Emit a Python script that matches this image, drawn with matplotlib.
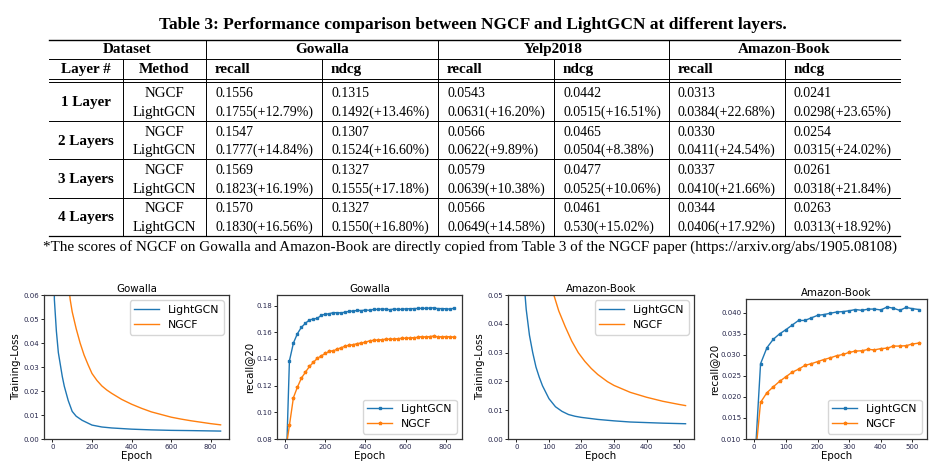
import matplotlib
matplotlib.use("Agg")
import matplotlib.pyplot as plt
from matplotlib.lines import Line2D

W, H = 944, 468

# ---- table data ----
title = "Table 3: Performance comparison between NGCF and LightGCN at different layers."
footnote = ("*The scores of NGCF on Gowalla and Amazon-Book are directly copied from "
            "Table 3 of the NGCF paper (https://arxiv.org/abs/1905.08108)")
datasets = ["Gowalla", "Yelp2018", "Amazon-Book"]
metrics = ["recall", "ndcg"]
layers = ["1 Layer", "2 Layers", "3 Layers", "4 Layers"]
methods = ["NGCF", "LightGCN"]
ngcf_scores = [
    ["0.1556", "0.1315", "0.0543", "0.0442", "0.0313", "0.0241"],
    ["0.1547", "0.1307", "0.0566", "0.0465", "0.0330", "0.0254"],
    ["0.1569", "0.1327", "0.0579", "0.0477", "0.0337", "0.0261"],
    ["0.1570", "0.1327", "0.0566", "0.0461", "0.0344", "0.0263"],
]
lightgcn_scores = [
    ["0.1755(+12.79%)", "0.1492(+13.46%)", "0.0631(+16.20%)", "0.0515(+16.51%)", "0.0384(+22.68%)", "0.0298(+23.65%)"],
    ["0.1777(+14.84%)", "0.1524(+16.60%)", "0.0622(+9.89%)", "0.0504(+8.38%)", "0.0411(+24.54%)", "0.0315(+24.02%)"],
    ["0.1823(+16.19%)", "0.1555(+17.18%)", "0.0639(+10.38%)", "0.0525(+10.06%)", "0.0410(+21.66%)", "0.0318(+21.84%)"],
    ["0.1830(+16.56%)", "0.1550(+16.80%)", "0.0649(+14.58%)", "0.530(+15.02%)", "0.0406(+17.92%)", "0.0313(+18.92%)"],
]

# ---- training loss curves ----
gow_loss_epoch_lgcn = [0, 10, 20, 30, 40, 50, 60, 80, 100, 120, 150, 200, 250, 300, 400, 500, 600, 700, 850]
gow_loss_lgcn = [0.12, 0.058, 0.045, 0.036, 0.031, 0.026, 0.022, 0.016, 0.0115, 0.0095, 0.0078, 0.0058,
                 0.0050, 0.0046, 0.0041, 0.0038, 0.0036, 0.0035, 0.0033]
gow_loss_epoch_ngcf = [0, 50, 80, 90, 100, 120, 140, 160, 180, 200, 225, 250, 275, 300, 350, 400, 450, 500,
                       550, 600, 650, 700, 750, 800, 850]
gow_loss_ngcf = [0.3, 0.1, 0.066, 0.058, 0.053, 0.046, 0.040, 0.035, 0.031, 0.0273, 0.0244, 0.0221, 0.0204,
                 0.0190, 0.0165, 0.0145, 0.0128, 0.0113, 0.0102, 0.0091, 0.0083, 0.0076, 0.0070, 0.0064,
                 0.0059]

amz_loss_epoch_lgcn = [0, 10, 20, 25, 30, 40, 50, 60, 70, 80, 100, 120, 140, 160, 180, 200, 250, 300, 350,
                       400, 450, 520]
amz_loss_lgcn = [0.15, 0.10, 0.062, 0.052, 0.045, 0.036, 0.030, 0.025, 0.0215, 0.0185, 0.0140, 0.0112,
                 0.0096, 0.0085, 0.0079, 0.0075, 0.0068, 0.0063, 0.0059, 0.0057, 0.0055, 0.0053]
amz_loss_epoch_ngcf = [0, 100, 115, 130, 150, 170, 190, 210, 230, 250, 280, 300, 350, 400, 450, 500, 520]
amz_loss_ngcf = [0.3, 0.058, 0.050, 0.0445, 0.0390, 0.0340, 0.0300, 0.0270, 0.0245, 0.0224, 0.0199,
                 0.0186, 0.0162, 0.0145, 0.0131, 0.0120, 0.0116]

# ---- recall@20 curves, evaluated every 20 epochs ----
gow_recall_epoch = list(range(0, 841, 20))
gow_recall_lgcn = [0.040, 0.1386, 0.1520, 0.1590, 0.1638, 0.1668, 0.1693, 0.1700, 0.1705, 0.1730, 0.1735,
                   0.1740, 0.1748, 0.1747, 0.1746, 0.1752, 0.1758, 0.1760, 0.1765, 0.1763, 0.1768, 0.1765,
                   0.1772, 0.1772, 0.1775, 0.1774, 0.1770, 0.1774, 0.1773, 0.1772, 0.1776, 0.1777, 0.1778,
                   0.1779, 0.1780, 0.1780, 0.1782, 0.1784, 0.1778, 0.1778, 0.1777, 0.1774, 0.1780]
gow_recall_ngcf = [0.070, 0.0902, 0.1110, 0.1189, 0.1257, 0.1301, 0.1344, 0.1376, 0.1406, 0.1424, 0.1443,
                   0.1458, 0.1462, 0.1475, 0.1485, 0.1498, 0.1503, 0.1508, 0.1516, 0.1520, 0.1526, 0.1536,
                   0.1540, 0.1542, 0.1545, 0.1548, 0.1548, 0.1550, 0.1552, 0.1555, 0.1555, 0.1558, 0.1560,
                   0.1562, 0.1568, 0.1565, 0.1568, 0.1572, 0.1566, 0.1567, 0.1568, 0.1567, 0.1564]

amz_recall_epoch = list(range(0, 521, 20))
amz_recall_lgcn = [0.002, 0.0279, 0.0317, 0.0337, 0.0350, 0.0360, 0.0371, 0.0382, 0.0382, 0.0388, 0.0394,
                   0.0396, 0.0399, 0.0402, 0.0403, 0.0405, 0.0408, 0.0406, 0.0409, 0.0409, 0.0407, 0.0414,
                   0.0411, 0.0406, 0.0413, 0.0410, 0.0408]
amz_recall_ngcf = [0.003, 0.0187, 0.0210, 0.0224, 0.0237, 0.0248, 0.0259, 0.0266, 0.0275, 0.0279, 0.0284,
                   0.0289, 0.0293, 0.0298, 0.0301, 0.0306, 0.0309, 0.0310, 0.0313, 0.0312, 0.0315, 0.0316,
                   0.0321, 0.0321, 0.0322, 0.0326, 0.0328]

BLUE = "#1f77b4"
ORANGE = "#ff7f0e"
SERIF = ["Liberation Serif", "DejaVu Serif"]
TICK_COLOR = "#25254a"

fig = plt.figure(figsize=(W / 100, H / 100), dpi=100)


def fx(px):
    return px / W


def fy(py):
    return 1 - py / H


def hline(y, x0=49, x1=900, lw=0.7):
    fig.add_artist(Line2D([fx(x0), fx(x1)], [fy(y), fy(y)], transform=fig.transFigure,
                          color="black", lw=lw))


def vline(x, y0, y1, lw=0.7):
    fig.add_artist(Line2D([fx(x), fx(x)], [fy(y0), fy(y1)], transform=fig.transFigure,
                          color="black", lw=lw))


def put(x, y, s, ha="left", bold=False, size=10.0):
    fig.text(fx(x), fy(y), s, ha=ha, va="baseline", family=SERIF, fontsize=size,
             fontweight="bold" if bold else "normal")


# ---- table ----
put(473, 29, title, ha="center", bold=True, size=12.5)

cols = [49, 123, 206, 322, 438, 554, 669, 785, 900]
pad = 9
HEAD = 10.9
hline(40, lw=1.0)
hline(59)
hline(79)
hline(82)
block_top = 82
block_h = 38.5
for i in range(4):
    hline(block_top + block_h * (i + 1), lw=0.9 if i == 3 else 0.7)
table_bottom = block_top + block_h * 4

for k, x in enumerate(cols[1:-1], start=1):
    top = 40 if k in (2, 4, 6) else 59
    vline(x, top, table_bottom)

put((cols[0] + cols[2]) / 2, 53, "Dataset", ha="center", bold=True, size=HEAD)
for d, name in enumerate(datasets):
    put((cols[2 + 2 * d] + cols[4 + 2 * d]) / 2, 53, name, ha="center", bold=True, size=HEAD)
put((cols[0] + cols[1]) / 2, 73, "Layer #", ha="center", bold=True, size=HEAD)
put((cols[1] + cols[2]) / 2, 73, "Method", ha="center", bold=True, size=HEAD)
for c in range(6):
    put(cols[2 + c] + pad, 73, metrics[c % 2], bold=True, size=HEAD)

for i, layer in enumerate(layers):
    y0 = block_top + block_h * i
    put((cols[0] + cols[1]) / 2, y0 + 24, layer, ha="center", bold=True, size=HEAD)
    rows = [ngcf_scores[i], lightgcn_scores[i]]
    for r, method in enumerate(methods):
        yb = y0 + 15 + 18.6 * r
        put((cols[1] + cols[2]) / 2, yb, method, ha="center", size=10.7)
        for c in range(6):
            put(cols[2 + c] + pad, yb, rows[r][c])

put(470, 251, footnote, ha="center", size=10.9)

# ---- plots ----
def make_ax(left, right, top, bottom):
    ax = fig.add_axes([fx(left), fy(bottom), (right - left) / W, (bottom - top) / H])
    ax.tick_params(labelsize=5, length=2, width=0.6, pad=1.5, labelcolor=TICK_COLOR)
    for s in ax.spines.values():
        s.set_linewidth(0.9)
        s.set_color("#333333")
    return ax


def finish(ax, name, ylabel, legend_loc):
    ax.set_title(name, fontsize=7.4, pad=2.5)
    ax.set_xlabel("Epoch", fontsize=7.4, labelpad=0.5)
    ax.set_ylabel(ylabel, fontsize=7.4, labelpad=1.5)
    ax.legend(loc=legend_loc, fontsize=7.8, handlelength=2.3, borderaxespad=0.5)


ax1 = make_ax(44, 229, 295, 439)
ax1.plot(gow_loss_epoch_lgcn, gow_loss_lgcn, color=BLUE, lw=1.0, label="LightGCN")
ax1.plot(gow_loss_epoch_ngcf, gow_loss_ngcf, color=ORANGE, lw=1.0, label="NGCF")
ax1.set_ylim(0, 0.06)
ax1.set_xlim(-42.5, 892.5)
ax1.set_xticks([0, 200, 400, 600, 800])
ax1.set_yticks([0, 0.01, 0.02, 0.03, 0.04, 0.05, 0.06])
ax1.set_yticklabels([f"{v:.2f}" for v in ax1.get_yticks()])
finish(ax1, "Gowalla", "Training-Loss", "upper right")

ax2 = make_ax(277, 462, 295, 439)
ax2.plot(gow_recall_epoch, gow_recall_lgcn, color=BLUE, lw=1.0, marker="s", ms=1.8, label="LightGCN")
ax2.plot(gow_recall_epoch, gow_recall_ngcf, color=ORANGE, lw=1.0, marker="*", ms=2.5, label="NGCF")
ax2.set_ylim(0.08, 0.188)
ax2.set_xlim(-42, 882)
ax2.set_xticks([0, 200, 400, 600, 800])
ax2.set_yticks([0.08, 0.10, 0.12, 0.14, 0.16, 0.18])
ax2.set_yticklabels([f"{v:.2f}" for v in ax2.get_yticks()])
finish(ax2, "Gowalla", "recall@20", "lower right")

ax3 = make_ax(508, 694, 295, 439)
ax3.plot(amz_loss_epoch_lgcn, amz_loss_lgcn, color=BLUE, lw=1.0, label="LightGCN")
ax3.plot(amz_loss_epoch_ngcf, amz_loss_ngcf, color=ORANGE, lw=1.0, label="NGCF")
ax3.set_ylim(0, 0.05)
ax3.set_xlim(-26, 546)
ax3.set_xticks([0, 100, 200, 300, 400, 500])
ax3.set_yticks([0, 0.01, 0.02, 0.03, 0.04, 0.05])
ax3.set_yticklabels([f"{v:.2f}" for v in ax3.get_yticks()])
finish(ax3, "Amazon-Book", "Training-Loss", "upper right")

ax4 = make_ax(746, 927, 299, 439)
ax4.plot(amz_recall_epoch, amz_recall_lgcn, color=BLUE, lw=1.0, marker="s", ms=1.8, label="LightGCN")
ax4.plot(amz_recall_epoch, amz_recall_ngcf, color=ORANGE, lw=1.0, marker="*", ms=2.5, label="NGCF")
ax4.set_ylim(0.010, 0.0433)
ax4.set_xlim(-26, 546)
ax4.set_xticks([0, 100, 200, 300, 400, 500])
ax4.set_yticks([0.010, 0.015, 0.020, 0.025, 0.030, 0.035, 0.040])
ax4.set_yticklabels([f"{v:.3f}" for v in ax4.get_yticks()])
finish(ax4, "Amazon-Book", "recall@20", "lower right")

fig.savefig("out.png", dpi=100)
